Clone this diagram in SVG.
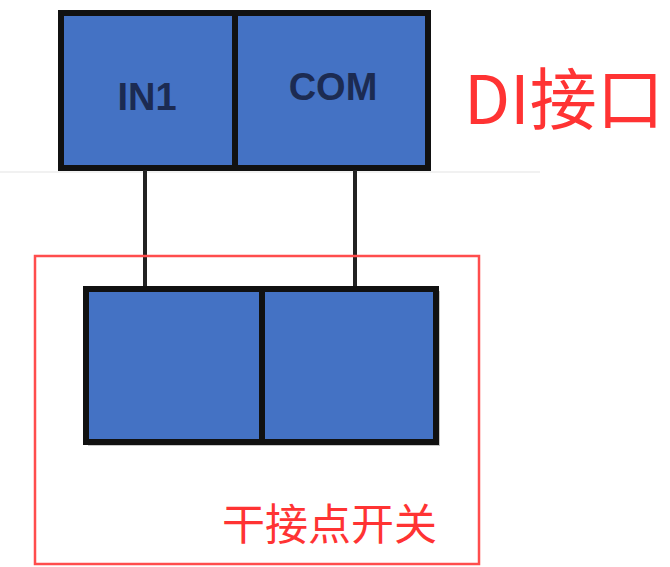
<svg xmlns="http://www.w3.org/2000/svg" width="670" height="567" viewBox="0 0 670 567">
<style>
.box{fill:#4472C4;stroke:#111;stroke-width:6}
.div{stroke:#111;stroke-width:6}
.wire{stroke:#222;stroke-width:4;fill:none}
.lbl{font-family:"Liberation Sans",Arial,sans-serif;font-weight:bold;font-size:38px;fill:#1c2b52;text-anchor:middle}
.red{font-family:"Noto Sans CJK SC",sans-serif;fill:#ff3333}
</style>
<rect width="670" height="567" fill="#fff"/>
<line x1="0" y1="172" x2="540" y2="172" stroke="#ececec" stroke-width="1.5"/>
<g id="di-interface">
<rect class="box" x="61" y="13" width="367" height="155"/>
<line class="div" x1="235" y1="13" x2="235" y2="168"/>
<text class="lbl" x="147" y="110">IN1</text>
<text class="lbl" x="333" y="100">COM</text>
</g>
<g id="di-label">
<text class="red" x="464" y="124" font-size="67">DI接口</text>
</g>
<g id="connectors">
<line class="wire" x1="145" y1="170" x2="145" y2="289"/>
<line class="wire" x1="355" y1="170" x2="355" y2="289"/>
</g>
<g id="dry-contact-switch">
<rect x="35" y="256" width="444" height="308" fill="none" stroke="#ff4d4d" stroke-width="2.5"/>
<rect x="88" y="291" width="352" height="155" fill="#c8c8c8"/>
<rect class="box" x="86" y="289" width="350" height="153"/>
<line class="div" x1="262" y1="289" x2="262" y2="442"/>
<text class="red" x="222" y="540" font-size="43">干接点开关</text>
</g>
</svg>
